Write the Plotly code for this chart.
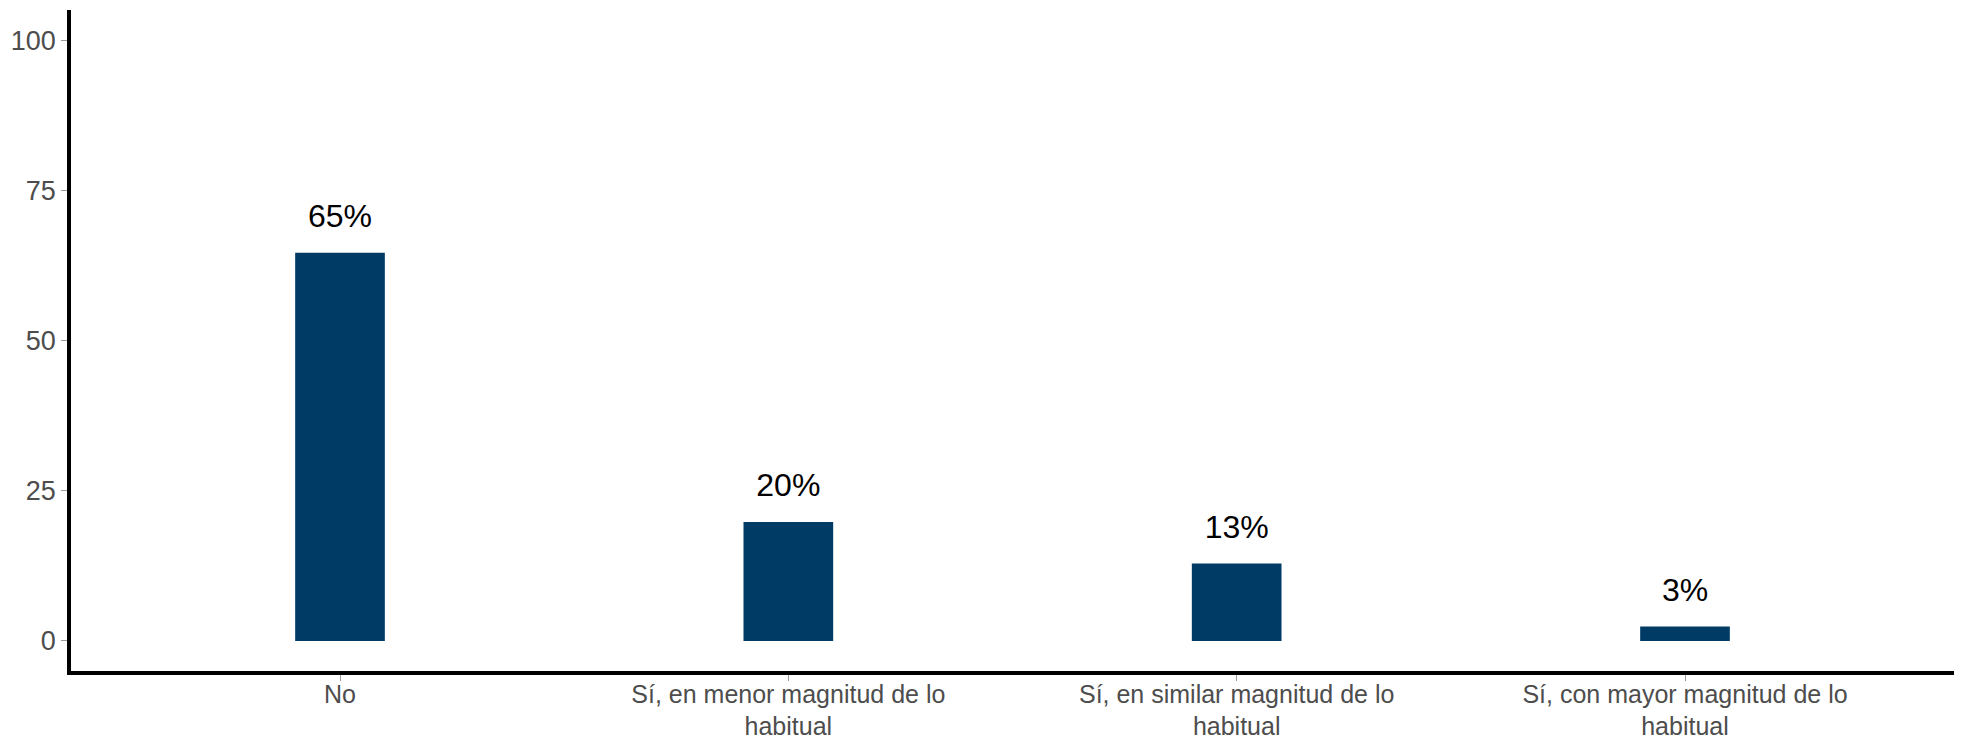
import plotly.graph_objects as go

categories = ["No",
              "Sí, en menor magnitud de lo<br>habitual",
              "Sí, en similar magnitud de lo<br>habitual",
              "Sí, con mayor magnitud de lo<br>habitual"]
values = [64.6, 19.8, 12.9, 2.4]
labels = ["65%", "20%", "13%", "3%"]
y_ticks = [0, 25, 50, 75, 100]

BAR = "#003B66"
FONT = "Liberation Sans, Arial, sans-serif"
x_idx = list(range(len(categories)))

fig = go.Figure()
fig.add_trace(go.Bar(x=x_idx, y=values, width=0.2, marker=dict(color=BAR, line=dict(width=0)),
                     hoverinfo="skip"))
fig.add_trace(go.Scatter(x=x_idx, y=[v + 5.6 for v in values], mode="text", text=labels,
                         textfont=dict(family=FONT, size=32, color="black"),
                         textposition="middle center", hoverinfo="skip"))

# page body adds an 8px offset; figure is sized to fit the 1962x740 window
fig.update_layout(
    width=1954, height=732,
    margin=dict(l=63, r=8, t=2, b=69, autoexpand=False),
    plot_bgcolor="white", paper_bgcolor="white",
    showlegend=False,
    font=dict(family=FONT),
    xaxis=dict(range=[-0.6, 3.6], tickmode="array", tickvals=x_idx, ticktext=categories,
               showline=True, linecolor="black", linewidth=3.5, showgrid=False, zeroline=False,
               ticks="outside", ticklen=6, tickcolor="#999999", tickwidth=1,
               ticklabelstandoff=-8,
               automargin=False,
               tickfont=dict(family=FONT, size=25, color="#4D4D4D")),
    yaxis=dict(range=[-5, 105], tickmode="array", tickvals=y_ticks,
               showline=True, linecolor="black", linewidth=3.5, showgrid=False, zeroline=False,
               ticks="outside", ticklen=6, tickcolor="#999999", tickwidth=1,
               automargin=False,
               tickfont=dict(family=FONT, size=27, color="#4D4D4D")),
)

fig.write_html("out.html")
